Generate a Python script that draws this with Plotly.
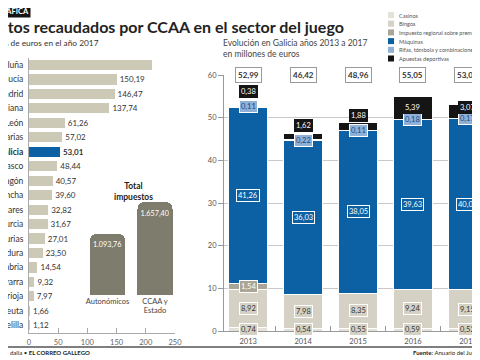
import plotly.graph_objects as go

# ---------------- data ----------------
comunidades = ["Cataluña", "Andalucía", "Madrid", "C. Valenciana", "Castilla y León",
               "Canarias", "Galicia", "País vasco", "Aragón", "Castilla-La Mancha",
               "Baleares", "Murcia", "Asturias", "Extremadura", "Cantabria",
               "Navarra", "La rioja", "Ceuta", "Melilla"]
recaudacion_2017 = [209.85, 150.19, 146.47, 137.74, 61.26, 57.02, 53.01, 48.44, 40.57,
                    39.60, 32.82, 31.67, 27.01, 23.50, 14.54, 9.32, 7.97, 1.66, 1.12]
etiqueta_visible = [False] + [True] * 18

total_tipo = ["Autonómicos", "CCAA y<br>Estado"]
total_valor = [1093.76, 1657.40]

anios = ["2013", "2014", "2015", "2016", "2017"]
casinos = [0.74, 0.54, 0.55, 0.59, 0.52]
bingos = [8.92, 7.98, 8.35, 9.24, 9.15]
imp_regional = [1.54, 0, 0, 0, 0]
maquinas = [41.26, 36.03, 38.05, 39.63, 40.08]
rifas = [0.11, 0.22, 0.11, 0.18, 0.17]
apuestas = [0.38, 1.62, 1.88, 5.39, 3.07]
totales = [52.99, 46.42, 48.96, 55.05, 53.01]

FONT = "Lato, sans-serif"
# the page body adds an 8 px margin, so the figure is sized to the rest of the window
OFF = 8
W, H = 480 - OFF, 360 - OFF


def px(x):
    return (x - OFF) / W


def py(y):
    return 1 - (y - OFF) / H


def es(v):
    s = f"{v:,.2f}"
    return s.replace(",", "X").replace(".", ",").replace("X", ".")


BEIGE = "#cdc9b7"
BLUE = "#0b61a4"
OLIVE = "#7e7c6c"
C_CAS = "#e4e2d8"
C_BIN = "#d5d2c5"
C_IMP = "#a9a697"
C_RIF = "#8fb1d8"
C_APU = "#151515"

fig = go.Figure()

# ---------------- left chart ----------------
fig.add_trace(go.Bar(
    x=recaudacion_2017, y=comunidades, orientation="h",
    marker=dict(color=[BLUE if c == "Galicia" else BEIGE for c in comunidades], line_width=0),
    text=[("<b>%s</b>" % es(v) if c == "Galicia" else es(v)) if vis else ""
          for c, v, vis in zip(comunidades, recaudacion_2017, etiqueta_visible)],
    textposition="outside", cliponaxis=False,
    textfont=dict(size=8, color="#333"),
    xaxis="x", yaxis="y", showlegend=False, hoverinfo="skip"))

# inset: total impuestos
fig.add_trace(go.Bar(
    x=[0, 1], y=total_valor, width=0.74,
    marker=dict(color=OLIVE, cornerradius=7, line_width=0),
    text=[es(v) for v in total_valor], textposition="inside", insidetextanchor="end",
    textangle=0, textfont=dict(size=7.5, color="white"),
    xaxis="x3", yaxis="y3", showlegend=False, hoverinfo="skip"))

# ---------------- right chart ----------------
series = [("Casinos", casinos, C_CAS), ("Bingos", bingos, C_BIN),
          ("Impuesto regional sobre premios", imp_regional, C_IMP),
          ("Máquinas", maquinas, BLUE),
          ("Rifas, tómbola y combinaciones aleatorias", rifas, C_RIF),
          ("Apuestas deportivas", apuestas, C_APU)]
for name, vals, col in series:
    fig.add_trace(go.Bar(
        x=anios, y=vals, name=name, marker=dict(color=col, line=dict(color="white", width=1)),
        xaxis="x2", yaxis="y2", showlegend=False, hoverinfo="skip"))

annotations = []
label_style = {
    "Casinos": (C_BIN, "#333"), "Bingos": (C_BIN, "#333"),
    "Impuesto regional sobre premios": (C_IMP, "white"),
    "Máquinas": (BLUE, "white"),
    "Rifas, tómbola y combinaciones aleatorias": (C_RIF, "#14477f"),
    "Apuestas deportivas": (C_APU, "white"),
}
for i, a in enumerate(anios):
    base = 0.0
    for name, vals, col in series:
        v = vals[i]
        if v > 0:
            yc = base + v / 2
            if name == "Apuestas deportivas":
                if v < 2:
                    yc = base + 3.5
                else:
                    yc = max(yc, base - rifas[i] / 2 + 2.6)
            bg, fc = label_style[name]
            annotations.append(dict(
                x=i, y=yc, xref="x2", yref="y2", text=es(v), showarrow=False,
                font=dict(size=7.5, color=fc, family=FONT), bgcolor=bg,
                bordercolor="white" if name != "Apuestas deportivas" else C_APU,
                borderwidth=1, borderpad=1))
        base += v
    annotations.append(dict(
        x=i, y=60, xref="x2", yref="y2", text="<b>%s</b>" % es(totales[i]), showarrow=False,
        font=dict(size=8, color="#333", family=FONT), bgcolor="white",
        bordercolor="#9a9a9a", borderwidth=1, borderpad=2))

# ---------------- texts ----------------
annotations += [
    dict(x=px(31), y=py(12), xref="paper", yref="paper", xanchor="right", yanchor="middle",
         text="<b>GRÁFICA</b>", showarrow=False, bgcolor="#161616", borderpad=1,
         font=dict(size=7.5, color="white", family=FONT)),
    dict(x=px(346), y=py(26), xref="paper", yref="paper", xanchor="right", yanchor="middle",
         text="<b>Impuestos recaudados por CCAA en el sector del juego</b>", showarrow=False,
         font=dict(size=16, color="#222", family=FONT)),
    dict(x=px(101), y=py(43), xref="paper", yref="paper", xanchor="right", yanchor="middle",
         text="En millones de euros en el año 2017", showarrow=False,
         font=dict(size=8.3, color="#333", family=FONT)),
    dict(x=px(221), y=py(49), xref="paper", yref="paper", xanchor="left", yanchor="middle",
         text="Evolución en Galicia años 2013 a 2017<br>en millones de euros", align="left",
         showarrow=False, font=dict(size=8.5, color="#444", family=FONT)),
    dict(x=px(133), y=py(191), xref="paper", yref="paper", xanchor="center", yanchor="middle",
         text="<b>Total<br>impuestos</b>", showarrow=False,
         font=dict(size=8.5, color="#222", family=FONT)),
    dict(x=px(8), y=py(352), xref="paper", yref="paper", xanchor="left", yanchor="middle",
         text="dalla • <b>EL CORREO GALLEGO</b>", showarrow=False,
         font=dict(size=6, color="#222", family=FONT)),
    dict(x=px(411), y=py(352), xref="paper", yref="paper", xanchor="left", yanchor="middle",
         text="<b>Fuente:</b> Anuario del Juego en España", showarrow=False,
         font=dict(size=6, color="#222", family=FONT)),
]

# manual legend
shapes = []
leg_y = [15, 23.7, 32.4, 41.1, 49.8, 58.5]
for (name, vals, col), ly in zip(series, leg_y):
    shapes.append(dict(type="rect", xref="paper", yref="paper",
                       x0=px(388), x1=px(394), y0=py(ly + 3), y1=py(ly - 3),
                       fillcolor=col, line_width=0))
    annotations.append(dict(x=px(397), y=py(ly), xref="paper", yref="paper",
                            xanchor="left", yanchor="middle", text=name, showarrow=False,
                            font=dict(size=5.6, color="#555", family=FONT)))

shapes.append(dict(type="line", xref="paper", yref="paper", x0=0, x1=1,
                   y0=py(347), y1=py(347), line=dict(color="#555", width=1.5)))

fig.update_layout(
    width=W, height=H, margin=dict(l=0, r=0, t=0, b=0),
    paper_bgcolor="white", plot_bgcolor="rgba(0,0,0,0)",
    font=dict(family=FONT, color="#333"),
    barmode="stack", bargap=0.3, showlegend=False,
    annotations=annotations, shapes=shapes,
    xaxis=dict(domain=[px(29), px(175)], range=[0, 250], anchor="y",
               tickvals=[0, 50, 100, 150, 200, 250], ticks="inside", ticklen=5,
               tickcolor="#aaa", showline=True, linecolor="#aaa", linewidth=1,
               showgrid=False, zeroline=False, automargin=False, ticklabelstandoff=2,
               tickfont=dict(size=7.5, color="#666")),
    yaxis=dict(domain=[py(332.5), py(57.8)], range=[18.5, -0.5], anchor="x",
               tickmode="array", tickvals=comunidades,
               ticktext=["<b>%s</b>" % c if c == "Galicia" else c for c in comunidades],
               ticks="", showline=True, linecolor="#aaa", linewidth=1, showgrid=False,
               automargin=False, ticklabelstandoff=3,
               tickfont=dict(size=8.5, color="#333")),
    xaxis3=dict(domain=[px(60), px(200)], range=[-1.0, 1.947], anchor="y3",
                tickvals=[0, 1], ticktext=total_tipo, ticks="", showline=False,
                showgrid=False, zeroline=False, automargin=False,
                tickfont=dict(size=7.5, color="#444")),
    yaxis3=dict(domain=[py(295), py(180)], range=[0, 2049.5], anchor="x3",
                visible=False),
    xaxis2=dict(domain=[px(224), 1.0], range=[-0.44, 4.22], anchor="y2", type="category",
                tickson="boundaries", ticks="inside", ticklen=5, tickcolor="#999",
                showline=True, linecolor="#999", linewidth=1, showgrid=False,
                automargin=False, ticklabelstandoff=3, tickfont=dict(size=7.5, color="#555")),
    yaxis2=dict(domain=[py(331), py(75)], range=[0, 60], anchor="x2",
                tickvals=[0, 10, 20, 30, 40, 50, 60], ticks="outside", ticklen=5,
                tickcolor="#999", showline=True, linecolor="#999", linewidth=1,
                showgrid=True, gridcolor="#c9c9c9", gridwidth=1, zeroline=False,
                automargin=False, tickfont=dict(size=7.5, color="#555")),
)

fig.write_html("out.html")
